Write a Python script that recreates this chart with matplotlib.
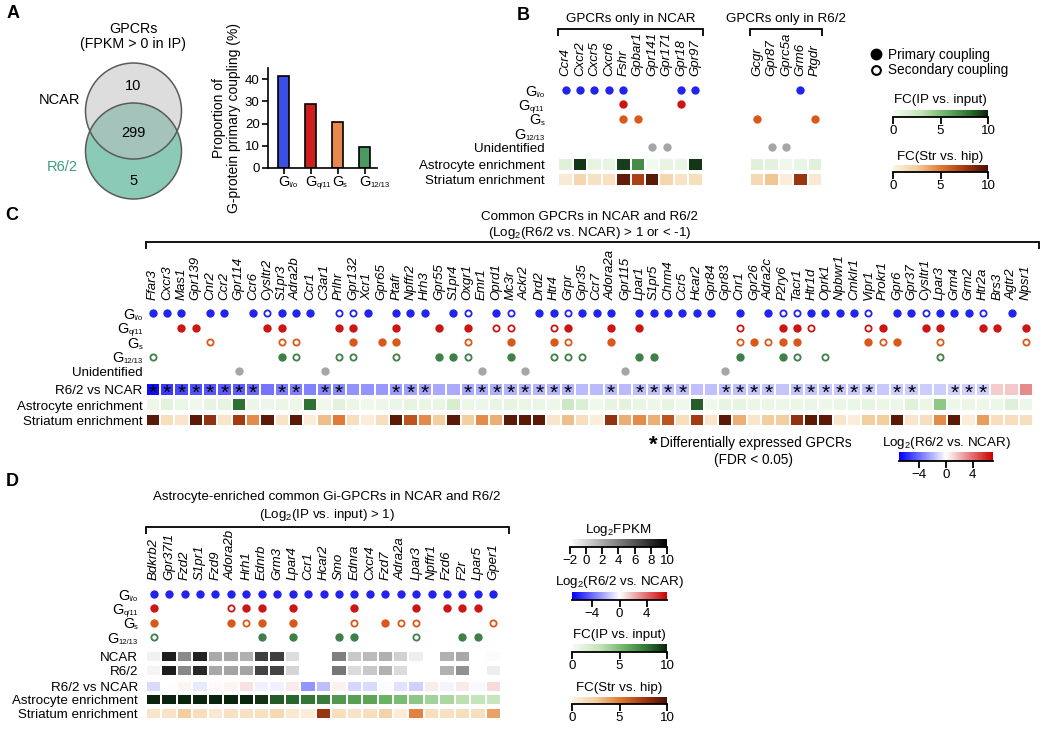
import numpy as np
import matplotlib
matplotlib.use('Agg')
import matplotlib.pyplot as plt
from matplotlib.colors import LinearSegmentedColormap, Normalize
from matplotlib.patches import Circle
from matplotlib.lines import Line2D
from matplotlib.transforms import offset_copy

W, H, DPI = 1050, 730, 100
plt.rcParams['font.family'] = ['Liberation Sans', 'DejaVu Sans']
plt.rcParams['mathtext.fontset'] = 'custom'
plt.rcParams['mathtext.rm'] = 'Liberation Sans'
plt.rcParams['mathtext.it'] = 'Liberation Sans:italic'
plt.rcParams['mathtext.bf'] = 'Liberation Sans:bold'

# ======================= DATA =======================
# ---- Panel A ----
venn_sets = ['NCAR', 'R6/2']
venn_counts = [10, 299, 5]          # NCAR only, common, R6/2 only
gprot_subs = ['i/o', 'q/11', 's', '12/13']
gprot_pct = [41.5, 29.0, 20.5, 9.5]

# ---- Panel B ----
b_ncar_genes = ['Ccr4', 'Cxcr2', 'Cxcr5', 'Cxcr6', 'Fshr', 'Gpbar1', 'Gpr141', 'Gpr171', 'Gpr18', 'Gpr97']
b_r62_genes = ['Gcgr', 'Gpr87', 'Gprc5a', 'Grm6', 'Ptgdr']
b_gio_pri = ['Ccr4', 'Cxcr2', 'Cxcr5', 'Cxcr6', 'Fshr', 'Gpr18', 'Gpr97', 'Grm6']
b_gq_pri = ['Fshr', 'Gpr18']
b_gs_pri = ['Fshr', 'Gpbar1', 'Gcgr', 'Ptgdr']
b_g12_pri = []
b_unidentified = ['Gpr141', 'Gpr171', 'Gpr87', 'Gprc5a']
b_ncar_astro = [1.3, 9.5, 1.0, 1.0, 9.3, 7.0, 0.3, 1.0, 0.8, 9.5]
b_ncar_str = [0.7, 2.0, 1.3, 1.3, 9.3, 7.2, 9.5, 2.0, 1.2, 1.5]
b_r62_astro = [1.3, 1.2, 0.5, 0.8, 1.3]
b_r62_str = [1.8, 2.8, 0.5, 7.8, 0.8]

# ---- Panel C ----
c_genes = ['Ffar3', 'Cxcr3', 'Mas1', 'Gpr139', 'Cnr2', 'Ccr2', 'Gpr114', 'Ccr6', 'Cysltr2', 'S1pr3',
           'Adra2b', 'Ccr1', 'C3ar1', 'Prlhr', 'Gpr132', 'Xcr1', 'Gpr65', 'Ptafr', 'Npffr2', 'Hrh3',
           'Gpr55', 'S1pr4', 'Oxgr1', 'Emr1', 'Oprd1', 'Mc3r', 'Ackr2', 'Drd2', 'Htr4', 'Grpr',
           'Gpr35', 'Ccr7', 'Adora2a', 'Gpr115', 'Lpar1', 'S1pr5', 'Chrm4', 'Ccr5', 'Hcar2', 'Gpr84',
           'Gpr83', 'Cnr1', 'Gpr26', 'Adra2c', 'P2ry6', 'Tacr1', 'Htr1d', 'Oprk1', 'Npbwr1', 'Cmklr1',
           'Vipr1', 'Prokr1', 'Gpr6', 'Gpr37', 'Cysltr1', 'Lpar3', 'Grm4', 'Grm2', 'Htr2a', 'Brs3',
           'Agtr2', 'Npsr1']
c_gio_pri = ['Ffar3', 'Cxcr3', 'Mas1', 'Cnr2', 'Ccr2', 'Ccr6', 'S1pr3', 'Adra2b', 'Ccr1', 'Xcr1',
             'Ptafr', 'Npffr2', 'Hrh3', 'S1pr4', 'Oprd1', 'Drd2', 'Htr4', 'Gpr35', 'Ccr7', 'Adora2a',
             'Lpar1', 'S1pr5', 'Chrm4', 'Ccr5', 'Hcar2', 'Gpr84', 'Cnr1', 'Adra2c', 'Htr1d', 'Oprk1',
             'Npbwr1', 'Cmklr1', 'Gpr6', 'Gpr37', 'Lpar3', 'Grm4', 'Grm2', 'Agtr2']
c_gio_sec = ['Cysltr2', 'Prlhr', 'Gpr132', 'Oxgr1', 'Mc3r', 'Grpr', 'P2ry6', 'Tacr1', 'Vipr1', 'Cysltr1', 'Htr2a']
c_gq_pri = ['Mas1', 'Gpr139', 'Cysltr2', 'S1pr3', 'Prlhr', 'Gpr132', 'Ptafr', 'Gpr55', 'Oxgr1', 'Grpr',
            'Adora2a', 'Lpar1', 'P2ry6', 'Tacr1', 'Prokr1', 'Cysltr1', 'Lpar3', 'Htr2a', 'Brs3', 'Npsr1']
c_gq_sec = ['Oprd1', 'Mc3r', 'Htr4', 'Cnr1', 'Htr1d', 'Vipr1']
c_gs_pri = ['Gpr132', 'Gpr65', 'Ptafr', 'Mc3r', 'Htr4', 'Adora2a', 'Gpr26', 'P2ry6', 'Tacr1', 'Vipr1', 'Gpr6']
c_gs_sec = ['Cnr2', 'S1pr3', 'Adra2b', 'Oxgr1', 'Grpr', 'Cnr1', 'Adra2c', 'Prokr1', 'Lpar3', 'Npsr1']
c_g12_pri = ['S1pr3', 'Gpr55', 'S1pr4', 'Mc3r', 'Lpar1', 'S1pr5', 'Cnr1', 'P2ry6']
c_g12_sec = ['Ffar3', 'Adra2b', 'Prlhr', 'Gpr132', 'Ptafr', 'Oxgr1', 'Htr4', 'Grpr', 'Gpr35', 'Tacr1', 'Oprk1', 'Lpar3']
c_unidentified = ['Gpr114', 'C3ar1', 'Emr1', 'Ackr2', 'Gpr115', 'Gpr83']
c_de_genes = ['Ffar3', 'Cxcr3', 'Mas1', 'Gpr139', 'Cnr2', 'Ccr2', 'Gpr114', 'Ccr6', 'S1pr3', 'Adra2b',
              'C3ar1', 'Prlhr', 'Ptafr', 'Npffr2', 'Hrh3', 'Oxgr1', 'Emr1', 'Oprd1', 'Mc3r', 'Ackr2',
              'Drd2', 'Htr4', 'Grpr', 'Adora2a', 'Lpar1', 'S1pr5', 'Chrm4', 'Ccr5', 'Gpr83', 'Cnr1',
              'Gpr26', 'Adra2c', 'Tacr1', 'Htr1d', 'Oprk1', 'Npbwr1', 'Cmklr1', 'Vipr1', 'Gpr6', 'Gpr37',
              'Grm4', 'Grm2', 'Htr2a']
c_log2fc = [-6.6, -5.4, -5.0, -4.8, -4.6, -4.5, -4.4, -4.2, -3.8, -3.6,
            -3.5, -3.4, -3.3, -3.2, -3.0, -2.9, -2.8, -2.7, -2.6, -2.5,
            -2.4, -2.3, -2.3, -2.2, -2.2, -2.1, -2.1, -2.0, -2.0, -2.0,
            -1.9, -1.9, -1.9, -1.9, -1.8, -1.8, -1.8, -1.8, -1.7, -1.7,
            -1.7, -1.7, -1.6, -1.6, -1.6, -1.6, -1.6, -1.5, -1.5, -1.5,
            -1.5, -1.5, -1.4, -1.4, -1.4, -1.4, -1.3, -1.3, -1.3, 1.4,
            1.5, 3.2]
c_astro = [0.6, 1.2, 0.8, 0.5, 0.9, 0.9, 8.0, 0.7, 0.6, 0.7,
           0.6, 8.0, 0.5, 1.2, 0.7, 0.5, 0.6, 0.7, 1.0, 0.8,
           0.8, 1.8, 0.6, 0.6, 0.8, 1.0, 0.8, 0.8, 0.6, 2.4,
           1.6, 0.5, 0.9, 1.2, 0.8, 0.6, 1.0, 0.5, 8.5, 0.5,
           0.9, 0.9, 0.7, 0.7, 0.6, 0.7, 0.8, 0.6, 0.7, 0.8,
           1.0, 0.7, 0.6, 1.4, 0.7, 4.5, 0.6, 0.7, 0.6, 0.6,
           1.5, 0.6]
c_str = [9.5, 1.5, 1.0, 9.5, 8.0, 1.0, 7.5, 4.5, 9.5, 1.2,
         9.5, 0.5, 3.0, 5.0, 1.5, 0.5, 1.5, 9.5, 6.5, 4.5,
         2.5, 9.5, 2.5, 4.5, 3.5, 9.5, 9.5, 9.5, 1.0, 3.0,
         1.5, 0.5, 8.0, 3.5, 4.5, 3.5, 6.5, 1.5, 7.5, 1.0,
         9.5, 3.5, 1.0, 2.5, 2.5, 8.0, 9.5, 9.5, 1.0, 0.5,
         2.5, 2.5, 9.5, 1.0, 1.5, 4.5, 9.5, 0.5, 4.0, 1.5,
         1.5, 1.5]

# ---- Panel D ----
d_genes = ['Bdkrb2', 'Gpr37l1', 'Fzd2', 'S1pr1', 'Fzd9', 'Adora2b', 'Hrh1', 'Ednrb', 'Grm3', 'Lpar4',
           'Ccr1', 'Hcar2', 'Smo', 'Ednra', 'Cxcr4', 'Fzd7', 'Adra2a', 'Lpar3', 'Npffr1', 'Fzd6',
           'F2r', 'Lpar5', 'Gper1']
d_gio_pri = list(d_genes)
d_gq_pri = ['Bdkrb2', 'Hrh1', 'Ednrb', 'Lpar4', 'Ednra', 'Lpar3', 'Fzd6', 'F2r', 'Lpar5']
d_gq_sec = ['Adora2b']
d_gs_pri = ['Bdkrb2', 'Adora2b', 'Ednrb', 'Lpar4', 'Fzd7']
d_gs_sec = ['Hrh1', 'Ednra', 'Adra2a', 'Lpar3', 'Gper1']
d_g12_pri = ['Ednrb', 'Lpar4', 'Smo', 'Ednra', 'F2r', 'Lpar5']
d_g12_sec = ['Bdkrb2', 'Lpar3']
d_ncar_fpkm = [-1.3, 8.5, 3.5, 8.4, 2.0, 2.1, 1.7, 7.0, 7.0, -0.4,
               -2.0, -2.0, 4.0, 0.6, 1.2, 1.7, 0.2, -1.2, -2.0, 1.7,
               2.1, -2.0, -1.8]
d_r62_fpkm = [-1.5, 8.6, 3.6, 8.1, 2.1, 2.3, 2.3, 6.8, 6.8, 0.0,
              -2.0, -2.0, 4.4, -0.3, 0.6, 1.7, -0.3, -2.0, -2.0, 1.7,
              3.2, -2.0, -1.2]
d_log2fc = [-1.0, 0.0, 0.3, -0.6, 0.2, 0.3, 0.8, -0.4, -0.4, 0.6,
            -2.9, -1.8, 0.4, -1.1, -1.0, -0.1, -0.8, -1.3, 0.5, -0.3,
            0.6, -0.2, 1.0]
d_astro = [13.0, 12.5, 12.0, 11.5, 11.0, 10.8, 10.5, 9.6, 8.6, 8.3,
           7.8, 7.6, 6.6, 6.3, 6.1, 5.6, 5.1, 4.6, 3.9, 3.7,
           3.2, 2.9, 2.7]
d_str = [1.0, 1.2, 2.5, 1.5, 0.8, 1.3, 1.3, 1.3, 1.8, 0.8,
         0.6, 7.8, 1.5, 1.2, 1.5, 2.2, 0.6, 4.8, 1.5, 1.3,
         1.5, 1.5, 3.8]

# ======================= STYLE =======================
BAR_COLORS = ['#3b4ee6', '#cc2020', '#e8884e', '#4b9a62']
DOT_COLORS = ['#2323ee', '#cc1515', '#d9581a', '#3f8049']
UNID_COLOR = '#a6a6a6'
cm_green = LinearSegmentedColormap.from_list('gfc', [(0, '#f7fcf5'), (0.3, '#c2e3b8'), (0.55, '#6db466'), (0.8, '#2e7233'), (1, '#0b240d')])
cm_orange = LinearSegmentedColormap.from_list('ofc', [(0, '#fdf4e8'), (0.25, '#f3cf9f'), (0.5, '#e07b35'), (0.75, '#a53a12'), (1, '#4a1106')])
cm_bwr = LinearSegmentedColormap.from_list('bwr2', ['#0000ff', '#ffffff', '#cc0000'])
cm_gray = LinearSegmentedColormap.from_list('gry', ['#ffffff', '#000000'])
norm_fc = Normalize(0, 10)
norm_lfc = Normalize(-7, 7)
norm_fpkm = Normalize(-2, 10)
DOT_S, OPEN_S, OPEN_LW = 36, 20, 1.3
FS_ROW, FS_GENE, FS_TITLE = 9.6, 9.5, 9.6

fig = plt.figure(figsize=(W / DPI, H / DPI), dpi=DPI)
fig.patch.set_facecolor('white')


def px_axes(x0, y0, x1, y1):
    return fig.add_axes([x0 / W, 1 - y1 / H, (x1 - x0) / W, (y1 - y0) / H])


def ftext(x, y, s, **kw):
    return fig.text(x / W, 1 - y / H, s, **kw)


def matrix_axes(x0, x1, y_row0, row_px, y_bottom, n):
    ax = px_axes(x0, y_row0 - 0.6 * row_px, x1, y_row0 + y_bottom * row_px)
    ax.set_xlim(-0.5, n - 0.5)
    ax.set_ylim(y_bottom, -0.6)
    ax.axis('off')
    return ax


def draw_dots(ax, genes, pri, sec, row, color):
    xp = [i for i, g in enumerate(genes) if g in pri]
    xs = [i for i, g in enumerate(genes) if g in sec]
    if xp:
        ax.scatter(xp, np.full(len(xp), row), s=DOT_S, color=color, linewidths=0, zorder=3, clip_on=False)
    if xs:
        ax.scatter(xs, np.full(len(xs), row), s=OPEN_S, facecolors='white', edgecolors=color,
                   linewidths=OPEN_LW, zorder=3, clip_on=False)


def heat_row(ax, vals, yc, h, cmap, norm):
    n = len(vals)
    ax.pcolormesh(np.arange(n + 1) - 0.5, [yc - h / 2, yc + h / 2], np.asarray(vals, float)[None, :],
                  cmap=cmap, norm=norm, edgecolors='white', linewidth=0.25)


def gene_labels(ax, genes, y, fs=FS_GENE):
    for i, g in enumerate(genes):
        ax.text(i, y, g, rotation=90, ha='center', va='bottom', fontsize=fs, style='italic')


def g_label(ax, y, sub, gap_px):
    tr = offset_copy(ax.transData, fig=fig, x=-gap_px * 72 / DPI, y=-4.8, units='points')
    st = ax.text(-0.5, y, sub, transform=tr, ha='right', va='baseline', fontsize=5.5)
    ax.annotate('G', xy=(0, 0), xycoords=st, ha='right', va='bottom', fontsize=10.5)


def text_label(ax, y, s, gap_px, fs=FS_ROW):
    tr = offset_copy(ax.transData, fig=fig, x=-gap_px * 72 / DPI, y=-0.36 * fs, units='points')
    ax.text(-0.5, y, s, transform=tr, ha='right', va='baseline', fontsize=fs)


def bracket(ax, x0, x1, y_line, y_tick):
    ax.plot([x0, x0, x1, x1], [y_tick, y_line, y_line, y_tick], color='black', lw=1.3,
            clip_on=False, solid_capstyle='butt', solid_joinstyle='miter')


def fmt_tick(t):
    return ('%g' % t).replace('-', '\u2212')


def colorbar_h(x0, x1, y0, y1, cmap, vmin, vmax, ticks, title, title_y):
    cax = px_axes(x0, y0, x1, y1)
    grad = np.linspace(vmin, vmax, 256)[None, :]
    cax.imshow(grad, aspect='auto', cmap=cmap, vmin=vmin, vmax=vmax, extent=[vmin, vmax, 0, 1],
               interpolation='bilinear')
    cax.set_xlim(vmin, vmax)
    cax.set_ylim(0, 1)
    cax.set_yticks([])
    cax.set_xticks(ticks)
    cax.set_xticklabels([fmt_tick(t) for t in ticks])
    for s in ['top', 'left', 'right']:
        cax.spines[s].set_visible(False)
    cax.spines['bottom'].set_linewidth(1.3)
    cax.tick_params(axis='x', length=5, width=1.3, labelsize=9.6, pad=1)
    ftext((x0 + x1) / 2, title_y, title, ha='center', va='center', fontsize=9.6)


# ======================= PANEL LETTERS =======================
for lx, ly, lt in [(13, 14, 'A'), (523, 16, 'B'), (12, 215, 'C'), (12, 481, 'D')]:
    ftext(lx, ly, lt, fontsize=13, fontweight='bold', ha='center', va='center')

# ======================= PANEL A =======================
ftext(133, 29, 'GPCRs', ha='center', va='center', fontsize=10.3)
ftext(133, 44, '(FPKM > 0 in IP)', ha='center', va='center', fontsize=10.3)
axv = px_axes(73.5, 55, 193.5, 205)
axv.set_xlim(-1.25, 1.25)
axv.set_ylim(-1.958, 1.167)
axv.axis('off')
axv.add_patch(Circle((0, -0.833), 1, facecolor='#8ccab8', edgecolor='none'))
axv.add_patch(Circle((0, 0), 1, facecolor='#bdbdbd', alpha=0.5, edgecolor='none'))
axv.add_patch(Circle((0, 0), 1, facecolor='none', edgecolor='#5a5a5a', lw=1.1))
axv.add_patch(Circle((0, -0.833), 1, facecolor='none', edgecolor='#5a5a5a', lw=1.1))
for yy, cnt in zip([0.52, -0.46, -1.46], venn_counts):
    axv.text(0, yy, str(cnt), ha='center', va='center', fontsize=10.5)
ftext(60, 100, venn_sets[0], ha='center', va='center', fontsize=10.5)
ftext(62, 167, venn_sets[1], ha='center', va='center', fontsize=10.5, color='#3d9c88')

axb = px_axes(268, 68, 377, 168)
xb = np.arange(len(gprot_pct))
axb.bar(xb, gprot_pct, width=0.42, color=BAR_COLORS, edgecolor='black', linewidth=1.2)
axb.set_xlim(-0.574, 3.46)
axb.set_ylim(0, 45)
axb.set_yticks([0, 10, 20, 30, 40])
axb.set_xticks(xb)
axb.set_xticklabels([])
for s in ['top', 'right']:
    axb.spines[s].set_visible(False)
for s in ['left', 'bottom']:
    axb.spines[s].set_linewidth(1.2)
axb.tick_params(length=4, width=1.2, labelsize=9.5, pad=2)
axb.set_ylabel('Proportion of\nG-protein primary coupling (%)', fontsize=10, labelpad=3, linespacing=1.1)
for i, sub in enumerate(gprot_subs):
    gt = axb.text(i, -0.14, 'G', transform=axb.get_xaxis_transform(), ha='center', va='center', fontsize=10.5)
    axb.annotate(sub, xy=(1, 0), xycoords=gt, ha='left', va='bottom', fontsize=5.5)

# ======================= PANEL B =======================
ROWB = 14.3
axBn = matrix_axes(558.3, 702.7, 90, ROWB, 6.73, len(b_ncar_genes))
axBr = matrix_axes(750, 822, 90, ROWB, 6.73, len(b_r62_genes))
for ax, genes, astro, strv, title in [(axBn, b_ncar_genes, b_ncar_astro, b_ncar_str, 'GPCRs only in NCAR'),
                                      (axBr, b_r62_genes, b_r62_astro, b_r62_str, 'GPCRs only in R6/2')]:
    n = len(genes)
    for r, (pri, color) in enumerate(zip([b_gio_pri, b_gq_pri, b_gs_pri, b_g12_pri], DOT_COLORS)):
        draw_dots(ax, genes, pri, [], r, color)
    draw_dots(ax, genes, b_unidentified, [], 4, UNID_COLOR)
    heat_row(ax, astro, 5.21, 0.88, cm_green, norm_fc)
    heat_row(ax, strv, 6.24, 0.88, cm_orange, norm_fc)
    gene_labels(ax, genes, -1.0)
    bracket(ax, -0.5, n - 0.5, -4.27, -3.78)
    ax.text((n - 1) / 2, -4.95, title, ha='center', va='center', fontsize=FS_TITLE)
for r, sub in enumerate(gprot_subs):
    g_label(axBn, r, sub, 14)
text_label(axBn, 4, 'Unidentified', 14)
text_label(axBn, 5.21, 'Astrocyte enrichment', 14)
text_label(axBn, 6.24, 'Striatum enrichment', 14)

fig.legend([Line2D([], [], ls='none', marker='o', ms=7.5, mfc='black', mec='black'),
            Line2D([], [], ls='none', marker='o', ms=6.3, mfc='white', mec='black', mew=1.5)],
           ['Primary coupling', 'Secondary coupling'], loc='upper left',
           bbox_to_anchor=(869 / W, 1 - 48 / H), frameon=False, fontsize=9.8, handlelength=1.0,
           handletextpad=0.4, labelspacing=0.1, borderpad=0, borderaxespad=0)
colorbar_h(893, 988, 110, 117, cm_green, 0, 10, [0, 5, 10], 'FC(IP vs. input)', 100)
colorbar_h(893, 988, 165, 172, cm_orange, 0, 10, [0, 5, 10], 'FC(Str vs. hip)', 157)

# ======================= PANEL C =======================
axC = matrix_axes(145.7, 1033, 313, 14.5, 7.88, len(c_genes))
nC = len(c_genes)
for r, (pri, sec, color) in enumerate(zip([c_gio_pri, c_gq_pri, c_gs_pri, c_g12_pri],
                                          [c_gio_sec, c_gq_sec, c_gs_sec, c_g12_sec], DOT_COLORS)):
    draw_dots(axC, c_genes, pri, sec, r, color)
draw_dots(axC, c_genes, c_unidentified, [], 4, UNID_COLOR)
heat_row(axC, c_log2fc, 5.28, 0.88, cm_bwr, norm_lfc)
heat_row(axC, c_astro, 6.33, 0.88, cm_green, norm_fc)
heat_row(axC, c_str, 7.38, 0.88, cm_orange, norm_fc)
for i, g in enumerate(c_genes):
    if g in c_de_genes:
        axC.text(i, 5.28 + 0.25, '*', ha='center', va='center', fontsize=15)
gene_labels(axC, c_genes, -0.9)
bracket(axC, -0.45, nC - 0.05, -4.9, -4.4)
axC.text((nC - 1) / 2, -6.65, 'Common GPCRs in NCAR and R6/2', ha='center', va='center', fontsize=FS_TITLE)
axC.text((nC - 1) / 2, -5.55, r'(Log$_\mathregular{2}$(R6/2 vs. NCAR) > 1 or < -1)', ha='center', va='center', fontsize=FS_TITLE)
for r, sub in enumerate(gprot_subs):
    g_label(axC, r, sub, 3)
text_label(axC, 4, 'Unidentified', 3)
text_label(axC, 5.28, 'R6/2 vs NCAR', 3)
text_label(axC, 6.33, 'Astrocyte enrichment', 3)
text_label(axC, 7.38, 'Striatum enrichment', 3)

ftext(653, 445, '*', ha='center', va='center', fontsize=16, fontweight='bold')
ftext(660, 443, 'Differentially expressed GPCRs', ha='left', va='center', fontsize=9.8)
ftext(753, 460, '(FDR < 0.05)', ha='center', va='center', fontsize=9.8)
colorbar_h(899, 993, 452, 461, cm_bwr, -7, 7, [-4, 0, 4], r'Log$_\mathregular{2}$(R6/2 vs. NCAR)', 443)

# ======================= PANEL D =======================
axD = matrix_axes(146, 501, 594, 14.4, 8.73, len(d_genes))
nD = len(d_genes)
for r, (pri, sec, color) in enumerate(zip([d_gio_pri, d_gq_pri, d_gs_pri, d_g12_pri],
                                          [[], d_gq_sec, d_gs_sec, d_g12_sec], DOT_COLORS)):
    draw_dots(axD, d_genes, pri, sec, r, color)
heat_row(axD, d_ncar_fpkm, 4.34, 0.76, cm_gray, norm_fpkm)
heat_row(axD, d_r62_fpkm, 5.31, 0.76, cm_gray, norm_fpkm)
heat_row(axD, d_log2fc, 6.42, 0.76, cm_bwr, norm_lfc)
heat_row(axD, d_astro, 7.33, 0.76, cm_green, norm_fc)
heat_row(axD, d_str, 8.30, 0.76, cm_orange, norm_fc)
gene_labels(axD, d_genes, -0.97)
bracket(axD, -0.5, nD + 0.05, -4.65, -4.17)
axD.text(11.2, -6.72, 'Astrocyte-enriched common Gi-GPCRs in NCAR and R6/2', ha='center', va='center', fontsize=FS_TITLE)
axD.text(11.2, -5.5, r'(Log$_\mathregular{2}$(IP vs. input) > 1)', ha='center', va='center', fontsize=FS_TITLE)
for r, sub in enumerate(gprot_subs):
    g_label(axD, r, sub, 8)
text_label(axD, 4.34, 'NCAR', 8)
text_label(axD, 5.31, 'R6/2', 8)
text_label(axD, 6.42, 'R6/2 vs NCAR', 8)
text_label(axD, 7.33, 'Astrocyte enrichment', 8)
text_label(axD, 8.30, 'Striatum enrichment', 8)

colorbar_h(570, 667, 539, 547, cm_gray, -2, 10, [-2, 0, 2, 4, 6, 8, 10], r'Log$_\mathregular{2}$FPKM', 530)
colorbar_h(572, 667, 592, 600, cm_bwr, -7, 7, [-4, 0, 4], r'Log$_\mathregular{2}$(R6/2 vs. NCAR)', 582)
colorbar_h(572, 667, 644, 652, cm_green, 0, 10, [0, 5, 10], 'FC(IP vs. input)', 635)
colorbar_h(572, 667, 697, 704, cm_orange, 0, 10, [0, 5, 10], 'FC(Str vs. hip)', 688)

fig.savefig('out.png', dpi=DPI, facecolor='white')
